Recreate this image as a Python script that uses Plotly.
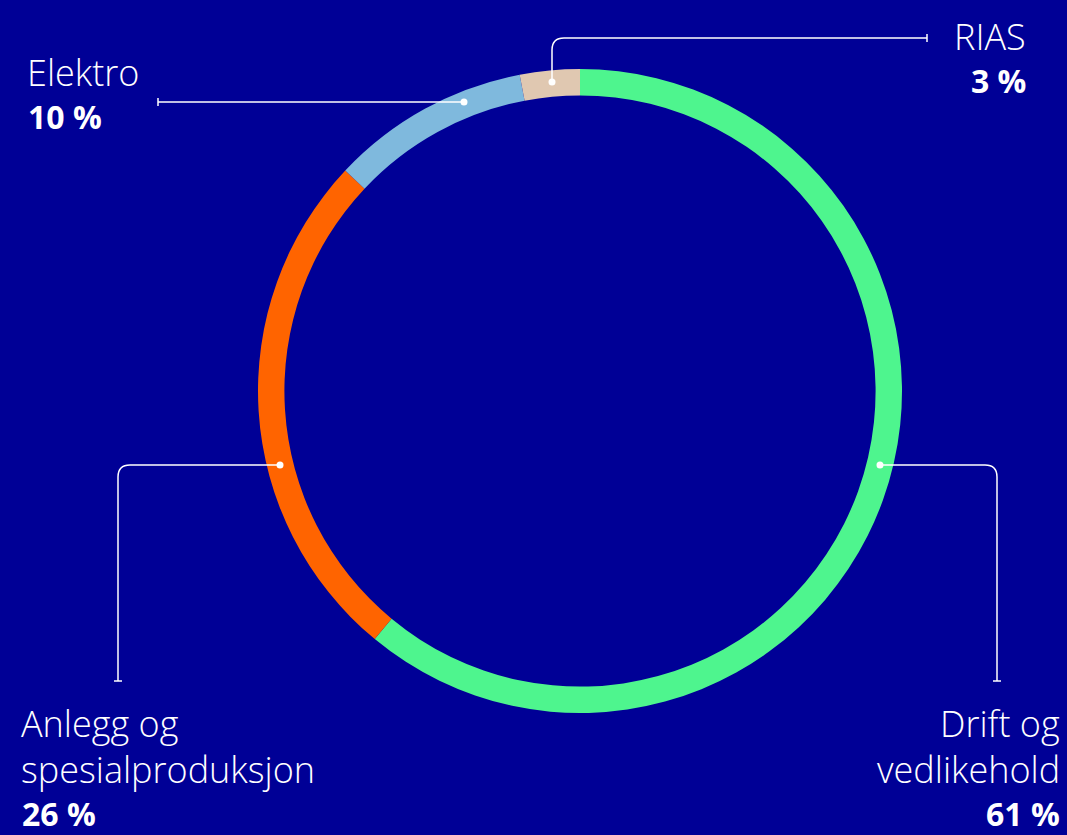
import plotly.graph_objects as go

# ---- data ----
labels = ["Drift og vedlikehold", "Anlegg og spesialproduksjon", "Elektro", "RIAS"]
values = [61, 26, 10, 3]
colors = ["#4ef58e", "#ff6400", "#7fb9dd", "#e0c8b1"]

W, H = 1067, 835
BG = "#000096"
FONT = "Open Sans"

# pie geometry (pixels)
cx, cy, R = 580, 391, 322

fig = go.Figure()

fig.add_trace(go.Pie(
    labels=labels, values=values, sort=False, direction="clockwise", rotation=0,
    hole=0.918, marker=dict(colors=colors, line=dict(width=0)),
    textinfo="none", hoverinfo="label+percent", showlegend=False,
    domain=dict(x=[(cx - R) / W, (cx + R) / W],
                y=[(H - cy - R) / H, (H - cy + R) / H]),
))

# invisible pixel-space axes for callouts
fig.add_trace(go.Scatter(x=[0, W], y=[0, H], mode="markers",
                         marker=dict(opacity=0), hoverinfo="skip", showlegend=False))

line = dict(color="white", width=1.5)
paths = [
    "M 552 82 L 552 50 Q 552 38 564 38 L 927 38",
    "M 927 34 L 927 42",
    "M 464 102 L 158 102",
    "M 158 98 L 158 106",
    "M 280 465 L 130 465 Q 118 465 118 477 L 118 681",
    "M 114 681 L 122 681",
    "M 880 465 L 985 465 Q 997 465 997 477 L 997 681",
    "M 993 681 L 1001 681",
]
shapes = [dict(type="path", path=p, xref="x", yref="y", line=line, layer="above") for p in paths]
dots = [(552, 82), (464, 102), (280, 465), (880, 465)]
r = 3.5
for (x, y) in dots:
    shapes.append(dict(type="circle", xref="x", yref="y", x0=x - r, x1=x + r, y0=y - r, y1=y + r,
                       fillcolor="white", line=dict(width=0), layer="above"))

texts = [
    ("Elektro", 25, 72, "left", False),
    ("10 %", 26, 116, "left", True),
    ("RIAS", 1028, 36, "right", False),
    ("3 %", 1028, 80, "right", True),
    ("Anlegg og", 19, 723, "left", False),
    ("spesialproduksjon", 19, 769, "left", False),
    ("26 %", 20, 813, "left", True),
    ("Drift og", 1062, 723, "right", False),
    ("vedlikehold", 1062, 769, "right", False),
    ("61 %", 1062, 813, "right", True),
]
annotations = []
for t, x, y, anc, bold in texts:
    annotations.append(dict(
        text=t, x=x, y=y, xref="x", yref="y", xanchor=anc, yanchor="middle",
        showarrow=False,
        font=dict(family=FONT, size=32 if bold else 36, color="white",
                  weight=700 if bold else 300),
    ))

fig.update_layout(
    width=W, height=H, margin=dict(l=0, r=0, t=0, b=0),
    paper_bgcolor=BG, plot_bgcolor=BG,
    xaxis=dict(range=[0, W], visible=False, fixedrange=True),
    yaxis=dict(range=[H, 0], visible=False, fixedrange=True),
    shapes=shapes, annotations=annotations,
    font=dict(family=FONT, color="white"),
)

fig.write_html(
    "out.html",
    config={"displayModeBar": False},
    post_script="document.body.style.margin='0';document.body.style.background='" + BG + "';",
)
